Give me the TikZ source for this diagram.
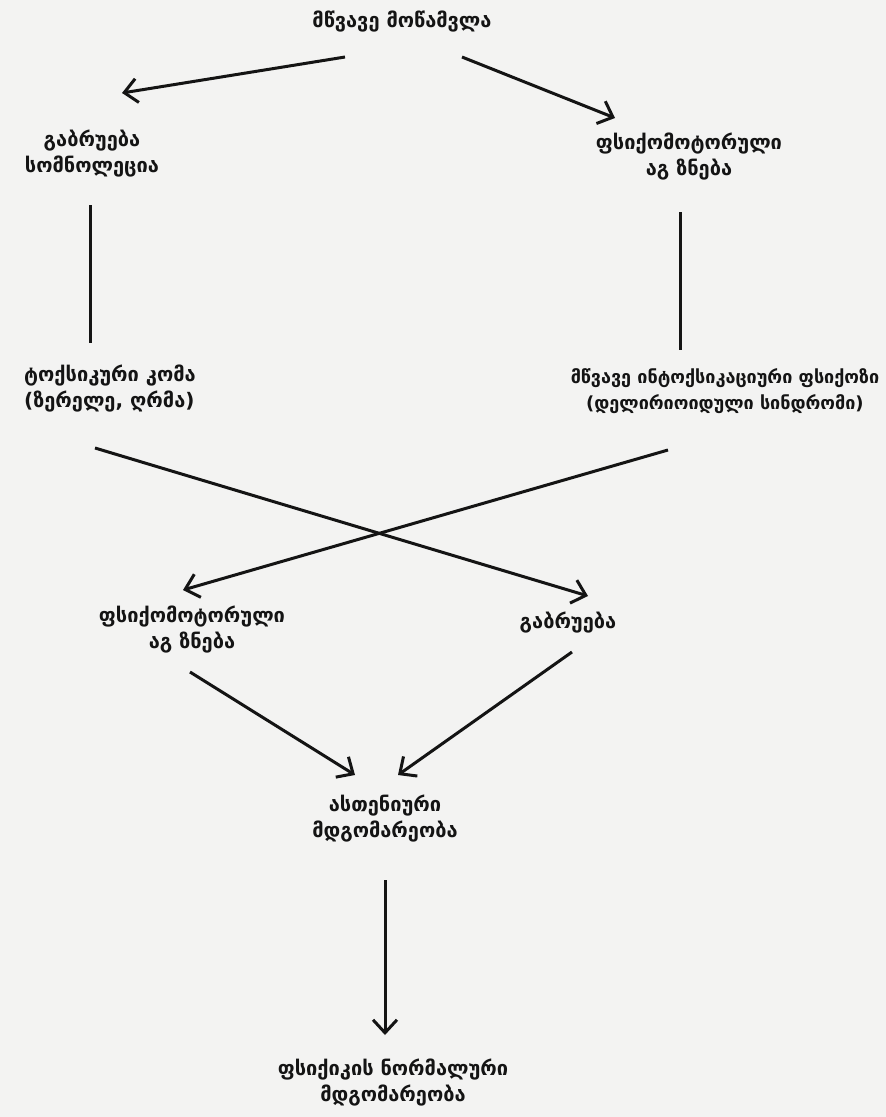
\documentclass[tikz,border=0pt]{standalone}
\usepackage{fontspec}
\setmainfont{DejaVu Sans}
\usetikzlibrary{arrows.meta,calc}
\definecolor{paper}{RGB}{243,243,242}
\definecolor{ink}{RGB}{20,20,20}
\tikzset{
  lbl/.style={inner sep=0pt, align=center, text=ink, font=\fontsize{20}{26}\selectfont\bfseries},
  ln/.style={draw=ink, line width=3pt},
  arr/.style={ln, -{Straight Barb[length=13pt,width=24pt,line width=3pt]}}
}
\begin{document}
\begin{tikzpicture}[x=1pt,y=-1pt]
\fill[paper] (0,0) rectangle (886,1117);
\useasboundingbox (0,0) rectangle (886,1117);

\node[lbl] (top) at (402,22) {მწვავე მოწამვლა};
\node[lbl] (gab1) at (92,154) {გაბრუება\\სომნოლეცია};
\node[lbl] (psi1) at (689,157) {ფსიქომოტორული\\აგ ზნება};
\node[lbl, align=left] (tox) at (110,389) {ტოქსიკური კომა\\(ზერელე, ღრმა)};
\node[lbl, font=\fontsize{18}{26}\selectfont\bfseries] (psy) at (725,391) {მწვავე ინტოქსიკაციური ფსიქოზი\\(დელირიოიდული სინდრომი)};
\node[lbl] (psi2) at (192,630) {ფსიქომოტორული\\აგ ზნება};
\node[lbl] (gab2) at (568,623) {გაბრუება};
\node[lbl] (ast) at (385,819) {ასთენიური\\მდგომარეობა};
\node[lbl] (norm) at (393,1083) {ფსიქიკის ნორმალური\\მდგომარეობა};

\draw[arr] ($(top)+(-57,35)$) -- ($(gab1)+(30,-61)$);
\draw[arr] ($(top)+(60,35)$) -- ($(psi1)+(-74,-39)$);
\draw[ln] ($(gab1)+(-2,51)$) -- ($(tox)+(-20,-46)$);
\draw[ln] ($(psi1)+(-9,55)$) -- ($(psy)+(-45,-41)$);
\draw[arr] ($(tox)+(-15,59)$) -- ($(gab2)+(20,-27)$);
\draw[arr] ($(psy)+(-57,59)$) -- ($(psi2)+(-9,-40)$);
\draw[arr] ($(psi2)+(-2,42)$) -- ($(ast)+(-30,-44)$);
\draw[arr] ($(gab2)+(4,29)$) -- ($(ast)+(13,-44)$);
\draw[arr] ($(ast)+(0,61)$) -- ($(norm)+(-8,-48)$);
\end{tikzpicture}
\end{document}
